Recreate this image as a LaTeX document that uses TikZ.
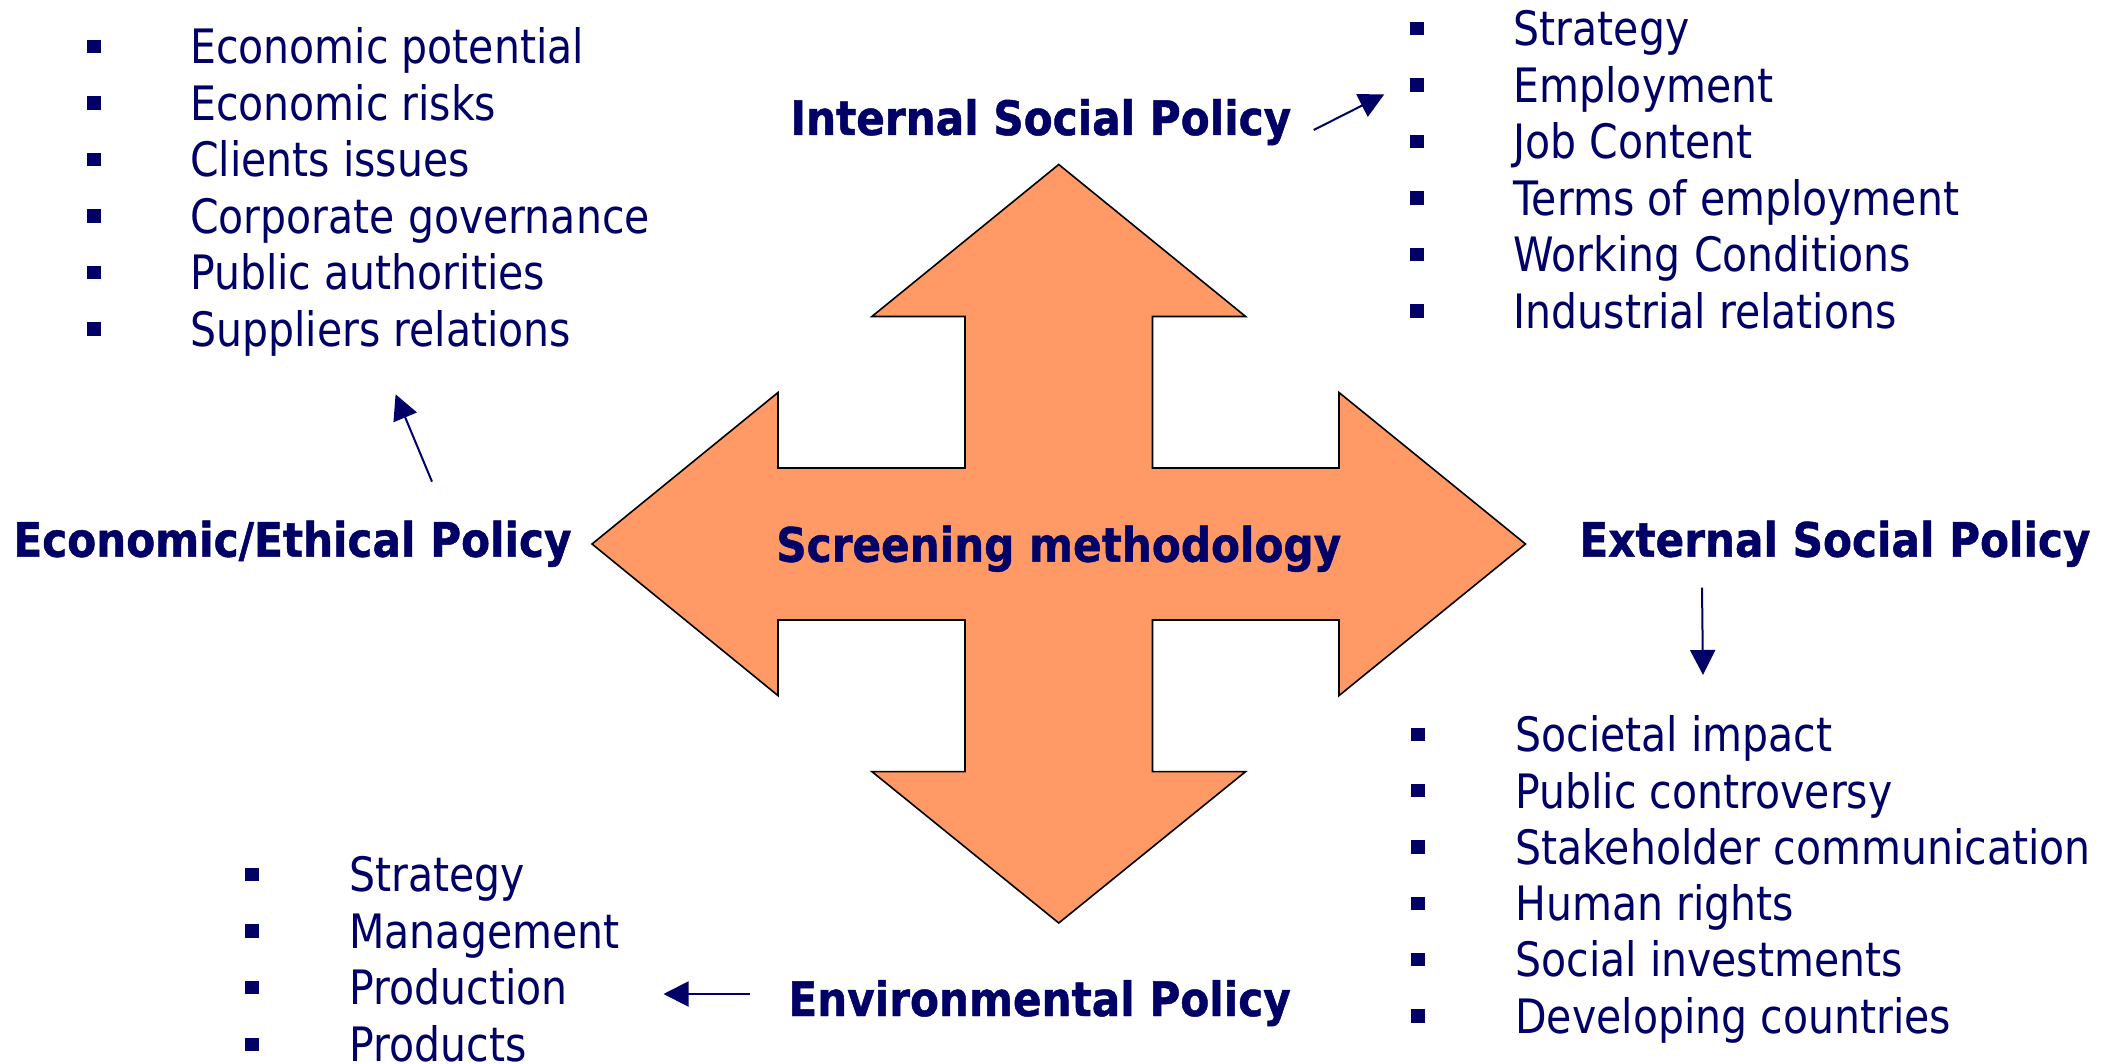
\documentclass[tikz,border=0pt]{standalone}
\usepackage{fontspec}
\setmainfont{DejaVu Sans}[FakeStretch=0.865]
\newfontfamily\headfont{DejaVu Sans}[FakeStretch=0.89, BoldFeatures={FakeBold=1}]
\usetikzlibrary{arrows.meta}
\definecolor{navy}{RGB}{0,0,102}
\definecolor{starfill}{RGB}{255,153,102}
\begin{document}
\begin{tikzpicture}[x=0.5pt,y=-0.5pt,
  itemtext/.style={anchor=base west, inner sep=0pt, text=navy, font=\fontsize{23.7}{28}\selectfont},
  headtext/.style={anchor=base west, inner sep=0pt, text=navy, font=\headfont\bfseries\fontsize{23.7}{28}\selectfont},
  bulletbox/.style={fill=navy, draw=none, inner sep=0pt, minimum size=6.7pt},
  conn/.style={draw=navy, line width=1pt, -{Triangle[length=12.5pt,width=12.5pt]}},
  starshape/.style={fill=starfill, draw=black, line width=0.8pt, line join=miter}]
\useasboundingbox (0,0) rectangle (2110,1064);

% central four-way arrow
\draw[starshape] (1058.75,164.5) -- (1245.6,316.5) -- (1152.5,316.5) -- (1152.5,468)
  -- (1339,468) -- (1339,392.5) -- (1525.5,544) -- (1339,695.6) -- (1339,620)
  -- (1152.5,620) -- (1152.5,771.6) -- (1245.6,771.6) -- (1058.75,923)
  -- (871.9,771.6) -- (965,771.6) -- (965,620) -- (778,620) -- (778,695.6)
  -- (592,544) -- (778,392.5) -- (778,468) -- (965,468) -- (965,316.5)
  -- (871.9,316.5) -- cycle;

\node[headtext, anchor=base] (center) at (1058.75,561.7) {Screening methodology};

% headings
\node[headtext] (isp) at (790,135) {Internal Social Policy};
\node[headtext] (eep) at (13,556.7) {Economic/Ethical Policy};
\node[headtext] (esp) at (1579,556.7) {External Social Policy};
\node[headtext] (env) at (788,1016) {Environmental Policy};

% top-left list
\foreach \t [count=\i from 0] in {Economic potential, Economic risks, Clients issues, Corporate governance, Public authorities, Suppliers relations}{
  \node[bulletbox] (tlb\i) at (93.8,{64+56.5*\i-17.3}) {};
  \node[itemtext] (tl\i) at (189.7,{64+56.5*\i}) {\t};
}
% top-right list
\foreach \t [count=\i from 0] in {Strategy, Employment, Job Content, Terms of employment, Working Conditions, Industrial relations}{
  \node[bulletbox] (trb\i) at (1417,{45.7+56.5*\i-17.3}) {};
  \node[itemtext] (tr\i) at (1513.3,{45.7+56.5*\i}) {\t};
}
% bottom-right list
\foreach \t [count=\i from 0] in {Societal impact, Public controversy, Stakeholder communication, Human rights, Social investments, Developing countries}{
  \node[bulletbox] (brb\i) at (1418,{751.7+56.3*\i-17.3}) {};
  \node[itemtext] (br\i) at (1515,{751.7+56.3*\i}) {\t};
}
% bottom-left list
\foreach \t [count=\i from 0] in {Strategy, Management, Production}{
  \node[bulletbox] (blb\i) at (252,{891.7+56.6*\i-17.3}) {};
  \node[itemtext] (bl\i) at (349,{891.7+56.6*\i}) {\t};
}
\node[bulletbox] (blb3) at (252,{891.7+56.6*3-17.3}) {};
\node[itemtext, text depth=0pt] (bl3) at (349,{891.7+56.6*3}) {Products};

% connectors
\coordinate (a1s) at (1313.7,130);
\coordinate (a1e) at (1384.3,94.3);
\coordinate (a2s) at (432,481.7);
\coordinate (a2e) at (395.6,394.3);
\coordinate (a3s) at (1702,587.7);
\coordinate (a3e) at (1703,675);
\coordinate (a4s) at (750,994);
\coordinate (a4e) at (663.5,994);
\draw[conn] (a1s) -- (a1e);
\draw[conn] (a2s) -- (a2e);
\draw[conn] (a3s) -- (a3e);
\draw[conn] (a4s) -- (a4e);
\end{tikzpicture}
\end{document}
